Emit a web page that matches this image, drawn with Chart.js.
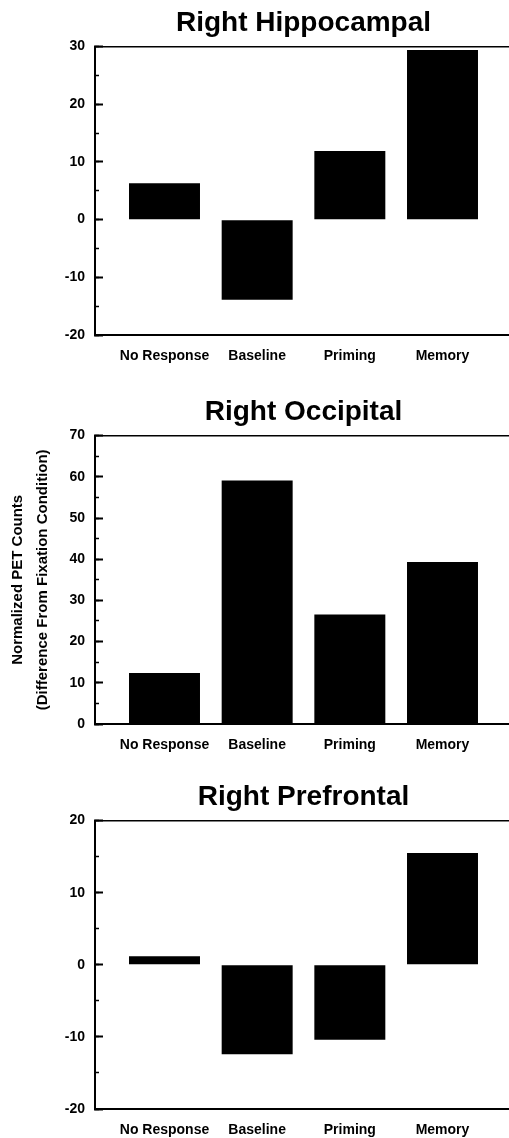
<!DOCTYPE html>
<html>
<head>
<meta charset="utf-8">
<title>Normalized PET Counts</title>
<script src="https://cdn.jsdelivr.net/npm/chart.js@4/dist/chart.umd.min.js"></script>
<style>
html, body {
    margin: 0;
    padding: 0;
    width: 509px;
    height: 1138px;
    overflow: hidden;
    background: #fff;
}
body { position: relative; }
.panel { position: absolute; left: 0; }
.panel canvas { display: block; }
</style>
</head>
<body>

<div class="panel" style="top:0px"><canvas id="hippo" width="607" height="370"></canvas></div>
<div class="panel" style="top:389px"><canvas id="occip" width="607" height="370"></canvas></div>
<div class="panel" style="top:774px"><canvas id="prefr" width="607" height="370"></canvas></div>

<script>
// conditions along the x axis
var categories = ['No Response', 'Baseline', 'Priming', 'Memory'];

// normalized PET counts, difference from fixation condition
var hippocampal = [6.3, -13.9, 11.9, 29.4];
var occipital   = [12.4, 59.1, 26.6, 39.3];
var prefrontal  = [1.2, -12.4, -10.4, 15.5];

// y ranges [min, max]
var hippocampalRange = [-20, 30];
var occipitalRange   = [0, 70];
var prefrontalRange  = [-20, 20];

var yTitle = ['Normalized PET Counts', '(Difference From Fixation Condition)'];

Chart.defaults.font.family = "'Liberation Sans', Arial, Helvetica, sans-serif";
Chart.defaults.font.weight = 'bold';
Chart.defaults.color = '#000';

function makeChart(id, title, values, range, axisTitle)
{
    var points = categories.map(function (c, i) { return {x: i + 1, y: values[i]}; });

    var ctx = document.getElementById(id).getContext('2d');
    return new Chart(ctx, {
        type: 'bar',
        data: {
            datasets: [{
                label: title,
                data: points,
                backgroundColor: '#000',
                borderWidth: 0,
                categoryPercentage: 1.0,
                barPercentage: 0.766
            }]
        },
        options: {
            responsive: false,
            animation: false,
            layout: { padding: 0 },
            plugins: {
                legend: { display: false },
                tooltip: { enabled: false },
                title: {
                    display: true,
                    text: title,
                    color: '#000',
                    font: { size: 28, weight: 'bold' },
                    padding: { top: 6, bottom: 7 }
                }
            },
            scales: {
                x: {
                    type: 'linear',
                    position: 'bottom',
                    offset: false,
                    min: 0.25,
                    max: 4.75,
                    afterBuildTicks: function (s) {
                        s.ticks = categories.map(function (c, i) { return {value: i + 1}; });
                    },
                    ticks: {
                        callback: function (v) { return categories[v - 1]; },
                        font: { size: 14 },
                        padding: 13,
                        maxRotation: 0,
                        autoSkip: false
                    },
                    grid: { offset: false, drawOnChartArea: false, drawTicks: false },
                    border: { color: '#000', width: 2 },
                    afterFit: function (s) { s.height = 35; }
                },
                xTop: {
                    type: 'linear',
                    position: 'top',
                    offset: false,
                    min: 0.25,
                    max: 4.75,
                    ticks: { display: false },
                    grid: { drawOnChartArea: false, drawTicks: false },
                    border: { color: '#000', width: 1.5 },
                    afterFit: function (s) { s.height = 0; }
                },
                y: {
                    position: 'left',
                    weight: 1,
                    min: range[0],
                    max: range[1],
                    ticks: { stepSize: 10, font: { size: 14 }, padding: 18 },
                    grid: { drawOnChartArea: false, tickLength: -8, tickColor: '#000', tickWidth: 2 },
                    border: { color: '#000', width: 2 },
                    title: {
                        display: !!axisTitle,
                        text: axisTitle || '',
                        color: '#000',
                        font: { size: 15, weight: 'bold', lineHeight: 1.7 },
                        padding: { top: 5, bottom: 0 }
                    },
                    afterFit: function (s) { s.width = 95; }
                },
                yMinor: {
                    position: 'left',
                    weight: 0,
                    min: range[0],
                    max: range[1],
                    ticks: { display: false, stepSize: 5 },
                    grid: { drawOnChartArea: false, tickLength: -4, tickColor: '#000', tickWidth: 1.5 },
                    border: { display: false },
                    afterFit: function (s) { s.width = 0; }
                },
                yRight: {
                    position: 'right',
                    min: range[0],
                    max: range[1],
                    ticks: { display: false },
                    grid: { display: false },
                    border: { display: false },
                    afterFit: function (s) { s.width = 95; }
                }
            }
        }
    });
}

makeChart('hippo', 'Right Hippocampal', hippocampal, hippocampalRange, null);
makeChart('occip', 'Right Occipital', occipital, occipitalRange, yTitle);
makeChart('prefr', 'Right Prefrontal', prefrontal, prefrontalRange, null);
</script>
</body>
</html>
